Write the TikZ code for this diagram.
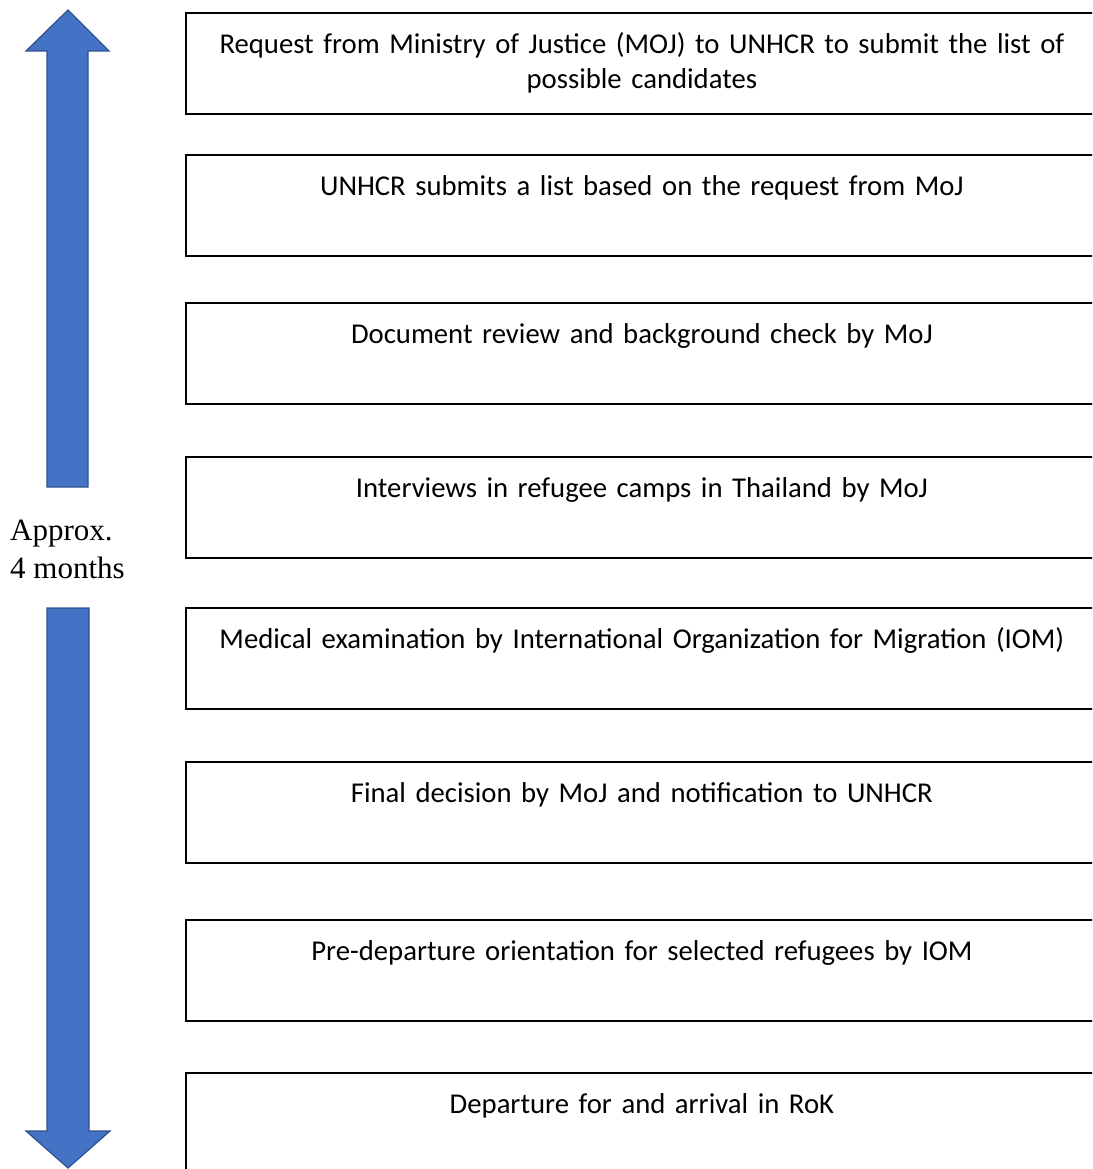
\documentclass[tikz,border=0pt]{standalone}
\usepackage{fontspec}
\setmainfont{Carlito}
\newfontfamily\timesfont{Liberation Serif}
\usetikzlibrary{positioning}
\definecolor{arrowblue}{HTML}{4472C4}
\definecolor{arrowedge}{HTML}{2F528F}

\begin{document}
\begin{tikzpicture}[
      x=1pt, y=-1pt,
      stepbox/.style={draw=black, line width=1.8pt, anchor=north west, minimum width=912pt, text width=890pt, inner xsep=11pt, inner ysep=0pt, align=center, text height=41pt, text depth=60pt, font=\fontsize{28.7}{35}\selectfont},
      bigarrow/.style={draw=arrowedge, fill=arrowblue, line width=1.2pt, line join=miter},
      span/.style={font=\timesfont\fontsize{31}{38}\selectfont, align=left, anchor=base west, inner sep=0pt}
    ]
    \useasboundingbox (0,0) rectangle (1092,1169);
    \clip (0,0) rectangle (1092,1169);

    % time span arrows
    \draw[bigarrow] (47,487) -- (47,51) -- (26,51) -- (68,10) -- (109,51) -- (88,51) -- (88,487) -- cycle;
    \draw[bigarrow] (47,608) -- (47,1131) -- (26,1131) -- (68,1168) -- (110,1131) -- (89,1131) -- (89,608) -- cycle;
    \node[span] (approx) at (10,578) {Approx.\\4 months};

    % procedure steps
    \node[stepbox] (request) at (185,12) {Request from Ministry of Justice (MOJ) to UNHCR to submit the list of\\possible candidates};
    \node[stepbox] (submit) at (185,154) {UNHCR submits a list based on the request from MoJ};
    \node[stepbox] (review) at (185,302) {Document review and background check by MoJ};
    \node[stepbox] (interview) at (185,456) {Interviews in refugee camps in Thailand by MoJ};
    \node[stepbox] (medical) at (185,607) {Medical examination by International Organization for Migration (IOM)};
    \node[stepbox] (decision) at (185,761) {Final decision by MoJ and notification to UNHCR};
    \node[stepbox] (orient) at (185,919) {Pre-departure orientation for selected refugees by IOM};
    \node[stepbox] (depart) at (185,1072) {Departure for and arrival in RoK};
  \end{tikzpicture}
\end{document}
